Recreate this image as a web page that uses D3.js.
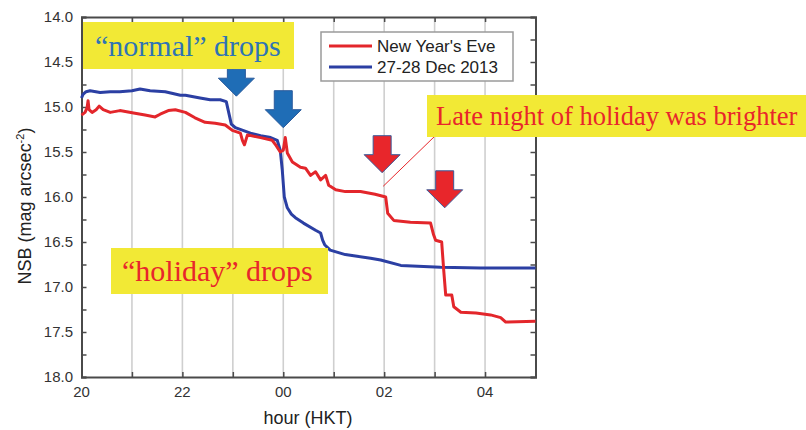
<!DOCTYPE html>
<html>
<head>
<meta charset="utf-8">
<script src="https://cdn.jsdelivr.net/npm/d3@7"></script>
<style>
  html, body { margin: 0; padding: 0; background: #fff; }
  svg { display: block; }
</style>
</head>
<body>
<svg id="chart" width="806" height="430"></svg>
<script>
// ---- data (hours since 20:00 HKT, NSB in mag arcsec^-2) ----
const seriesNames = ["New Year's Eve", "27-28 Dec 2013"];
const seriesColors = ["#e3262b", "#2b3fa3"];

const nyeHours = [0, 0.07, 0.11, 0.13, 0.15, 0.21, 0.29, 0.35, 0.43, 0.57, 0.76, 1.06, 1.26, 1.46, 1.56, 1.72, 1.86, 2.06, 2.25, 2.45, 2.65, 2.85, 2.99, 3.15, 3.19, 3.23, 3.29, 3.55, 3.78, 3.86, 3.94, 4.0, 4.04, 4.08, 4.18, 4.34, 4.44, 4.54, 4.64, 4.74, 4.84, 4.9, 5.04, 5.23, 5.53, 5.82, 6.03, 6.07, 6.19, 6.52, 6.92, 6.98, 7.02, 7.14, 7.18, 7.22, 7.34, 7.38, 7.52, 7.82, 8.11, 8.31, 8.41, 9.0];
const nyeNSB   = [15.09, 15.06, 15.01, 14.93, 15.03, 15.06, 15.03, 14.99, 15.03, 15.06, 15.04, 15.07, 15.09, 15.11, 15.08, 15.04, 15.03, 15.06, 15.12, 15.17, 15.18, 15.20, 15.26, 15.29, 15.37, 15.42, 15.31, 15.34, 15.37, 15.43, 15.50, 15.48, 15.34, 15.51, 15.61, 15.67, 15.68, 15.76, 15.72, 15.81, 15.76, 15.87, 15.92, 15.94, 15.94, 15.97, 16.00, 16.18, 16.26, 16.28, 16.29, 16.42, 16.48, 16.50, 16.81, 17.09, 17.09, 17.22, 17.28, 17.29, 17.31, 17.34, 17.39, 17.38];

const decHours = [0, 0.03, 0.09, 0.17, 0.37, 0.57, 0.76, 1.0, 1.16, 1.36, 1.66, 1.96, 2.06, 2.35, 2.55, 2.75, 2.87, 2.93, 2.97, 3.05, 3.35, 3.55, 3.75, 3.88, 3.94, 3.98, 4.02, 4.08, 4.16, 4.24, 4.40, 4.64, 4.74, 4.78, 4.82, 4.93, 5.23, 5.73, 5.93, 6.33, 7.12, 7.91, 9.0];
const decNSB   = [14.90, 14.86, 14.83, 14.82, 14.84, 14.83, 14.83, 14.82, 14.80, 14.82, 14.83, 14.87, 14.87, 14.90, 14.92, 14.92, 14.94, 15.09, 15.19, 15.23, 15.29, 15.32, 15.34, 15.37, 15.48, 15.70, 16.00, 16.12, 16.19, 16.23, 16.29, 16.37, 16.40, 16.48, 16.53, 16.59, 16.64, 16.68, 16.70, 16.76, 16.78, 16.79, 16.79];

const xTickValues = [0, 2, 4, 6, 8];
const xTickLabels = ["20", "22", "00", "02", "04"];
const yTickValues = [14.0, 14.5, 15.0, 15.5, 16.0, 16.5, 17.0, 17.5, 18.0];
const yTickLabels = ["14.0", "14.5", "15.0", "15.5", "16.0", "16.5", "17.0", "17.5", "18.0"];

// annotation arrows: tip position in data units
const arrowTipHours = [3.07, 4.00, 5.96, 7.20];
const arrowTipNSB   = [14.88, 15.23, 15.73, 16.12];
const arrowKinds    = ["normal", "normal", "holiday", "holiday"];

// ---- layout ----
const svg = d3.select("#chart");
const W = 806, H = 430;
const plot = { left: 81.5, right: 535.5, top: 17, bottom: 377 };

const x = d3.scaleLinear().domain([0, 9]).range([plot.left, plot.right]);
const y = d3.scaleLinear().domain([14, 18]).range([plot.top, plot.bottom]);

const axisColor = "#4a4a4a";
const labelColor = "#333";
const sans = "Arial, 'Liberation Sans', Helvetica, sans-serif";
const serif = "'Times New Roman', 'Liberation Serif', serif";

// vertical gridlines every hour
svg.append("g").selectAll("line").data(d3.range(1, 9)).join("line")
  .attr("x1", d => x(d)).attr("x2", d => x(d))
  .attr("y1", plot.top).attr("y2", plot.bottom)
  .attr("stroke", "#cfcfcf").attr("stroke-width", 1.6);

// axes with inward ticks
const hourTicks = d3.range(0, 10);
const minorY = d3.range(14, 18.001, 0.25);

const gB = svg.append("g").attr("transform", `translate(0,${plot.bottom})`)
  .call(d3.axisBottom(x).tickValues(hourTicks).tickSize(-5).tickFormat(""));
const gT = svg.append("g").attr("transform", `translate(0,${plot.top})`)
  .call(d3.axisTop(x).tickValues(hourTicks).tickSize(-5).tickFormat(""));
const gL = svg.append("g").attr("transform", `translate(${plot.left},0)`)
  .call(d3.axisLeft(y).tickValues(minorY).tickSize(-5).tickFormat(""));
const gR = svg.append("g").attr("transform", `translate(${plot.right},0)`)
  .call(d3.axisRight(y).tickValues(minorY).tickSize(-5).tickFormat(""));
[gB, gT, gL, gR].forEach(g => {
  g.select(".domain").attr("stroke", axisColor).attr("stroke-width", 2);
  g.selectAll(".tick line").attr("stroke", axisColor).attr("stroke-width", 1.5);
});

// tick labels
svg.append("g").selectAll("text").data(xTickValues).join("text")
  .attr("x", d => x(d)).attr("y", 397)
  .attr("text-anchor", "middle")
  .attr("font-family", sans).attr("font-size", 15).attr("fill", labelColor)
  .text((d, i) => xTickLabels[i]);

svg.append("g").selectAll("text").data(yTickValues).join("text")
  .attr("x", 73).attr("y", d => y(d) + 5)
  .attr("text-anchor", "end")
  .attr("font-family", sans).attr("font-size", 15).attr("fill", labelColor)
  .text((d, i) => yTickLabels[i]);

// axis titles
svg.append("text")
  .attr("x", 308).attr("y", 424)
  .attr("text-anchor", "middle")
  .attr("font-family", sans).attr("font-size", 18).attr("fill", "#222")
  .text("hour (HKT)");

const yTitle = svg.append("text")
  .attr("transform", "translate(31,206) rotate(-90)")
  .attr("text-anchor", "middle")
  .attr("font-family", sans).attr("font-size", 18).attr("fill", "#222");
yTitle.append("tspan").text("NSB (mag arcsec");
yTitle.append("tspan").attr("font-size", 11).attr("dy", -7).text("-2");
yTitle.append("tspan").attr("dy", 7).text(")");

// series lines
const line = d3.line().x(d => x(d[0])).y(d => y(d[1])).curve(d3.curveLinear);
const series = [
  d3.zip(nyeHours, nyeNSB),
  d3.zip(decHours, decNSB)
];
// draw blue first (beneath), then red? In the reference red sits over blue at crossings near 00
svg.append("path").datum(series[1])
  .attr("d", line).attr("fill", "none")
  .attr("stroke", seriesColors[1]).attr("stroke-width", 3).attr("stroke-linejoin", "round");
svg.append("path").datum(series[0])
  .attr("d", line).attr("fill", "none")
  .attr("stroke", seriesColors[0]).attr("stroke-width", 3).attr("stroke-linejoin", "round");

// legend
const leg = svg.append("g");
leg.append("rect").attr("x", 321).attr("y", 32).attr("width", 192).attr("height", 49)
  .attr("fill", "#fff").attr("stroke", "#9a9a9a").attr("stroke-width", 1.5);
seriesNames.forEach((name, i) => {
  const yy = 46 + i * 21;
  leg.append("line").attr("x1", 329).attr("x2", 372).attr("y1", yy).attr("y2", yy)
    .attr("stroke", seriesColors[i]).attr("stroke-width", 3);
  leg.append("text").attr("x", 377).attr("y", yy + 6)
    .attr("font-family", sans).attr("font-size", 17).attr("fill", "#222")
    .text(name);
});

// arrows (drawn in data space via scales)
const arrowFill = { normal: "#1f6db6", holiday: "#e8262b" };
const arrowStroke = { normal: "#2a5a9c", holiday: "#3b5a99" };
arrowTipHours.forEach((h, i) => {
  const tx = x(h), ty = y(arrowTipNSB[i]);
  const hw = 18, sw = 9, hh = 18, len = arrowKinds[i] === "normal" && i === 0 ? 27 : 37;
  const pts = [
    [tx - sw, ty - len], [tx + sw, ty - len], [tx + sw, ty - hh],
    [tx + hw, ty - hh], [tx, ty], [tx - hw, ty - hh], [tx - sw, ty - hh]
  ];
  svg.append("polygon").attr("points", pts.map(p => p.join(",")).join(" "))
    .attr("fill", arrowFill[arrowKinds[i]])
    .attr("stroke", arrowStroke[arrowKinds[i]]).attr("stroke-width", 1);
});

// yellow annotation boxes
const yellow = "#f2e935";
function noteBox(bx, by, bw, bh, tx, ty, size, color, txt) {
  svg.append("rect").attr("x", bx).attr("y", by).attr("width", bw).attr("height", bh).attr("fill", yellow);
  svg.append("text").attr("x", tx).attr("y", ty)
    .attr("font-family", serif).attr("font-size", size).attr("fill", color)
    .text(txt);
}
noteBox(83, 22, 211, 47, 95, 56, 30, "#2e74b5", "\u201cnormal\u201d drops");
noteBox(111, 248, 217, 46, 122, 281, 30, "#e8262b", "\u201choliday\u201d drops");

// pointer line from "Late night" box to the red curve
svg.append("line")
  .attr("x1", 436).attr("y1", 135)
  .attr("x2", x(5.98)).attr("y2", y(15.97) - 8)
  .attr("stroke", "#e8262b").attr("stroke-width", 1);
noteBox(427, 95, 379, 42, 436, 125, 26.5, "#e8262b", "Late night of holiday was brighter");
</script>
</body>
</html>
